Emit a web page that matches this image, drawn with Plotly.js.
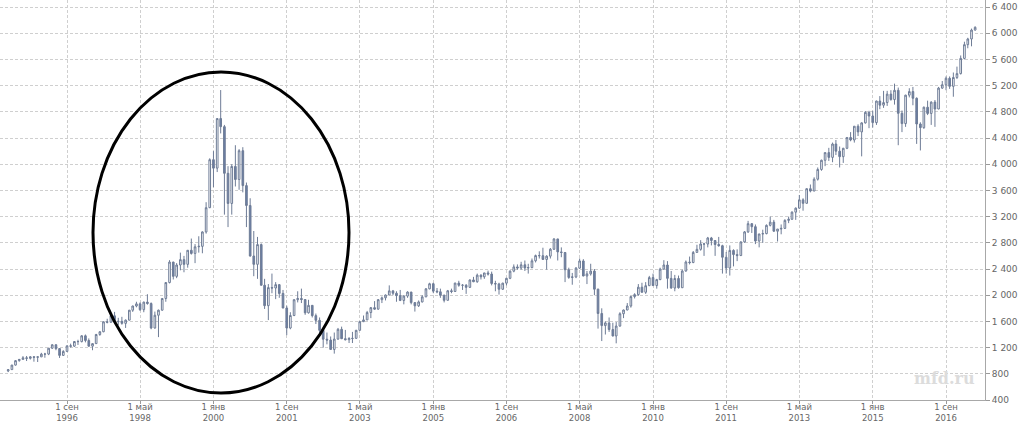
<!DOCTYPE html>
<html>
<head>
<meta charset="utf-8">
<script src="https://cdn.plot.ly/plotly-3.0.1.min.js"></script>
<style>html,body{margin:0;padding:0;background:#fff;}#chart{width:1022px;height:424px;}</style>
</head>
<body>
<div id="chart"></div>
<script>
var months = [
'1995-05-01','1995-06-01','1995-07-01','1995-08-01','1995-09-01','1995-10-01','1995-11-01','1995-12-01',
'1996-01-01','1996-02-01','1996-03-01','1996-04-01','1996-05-01','1996-06-01','1996-07-01','1996-08-01','1996-09-01','1996-10-01','1996-11-01','1996-12-01',
'1997-01-01','1997-02-01','1997-03-01','1997-04-01','1997-05-01','1997-06-01','1997-07-01','1997-08-01','1997-09-01','1997-10-01','1997-11-01','1997-12-01',
'1998-01-01','1998-02-01','1998-03-01','1998-04-01','1998-05-01','1998-06-01','1998-07-01','1998-08-01','1998-09-01','1998-10-01','1998-11-01','1998-12-01',
'1999-01-01','1999-02-01','1999-03-01','1999-04-01','1999-05-01','1999-06-01','1999-07-01','1999-08-01','1999-09-01','1999-10-01','1999-11-01','1999-12-01',
'2000-01-01','2000-02-01','2000-03-01','2000-04-01','2000-05-01','2000-06-01','2000-07-01','2000-08-01','2000-09-01','2000-10-01','2000-11-01','2000-12-01',
'2001-01-01','2001-02-01','2001-03-01','2001-04-01','2001-05-01','2001-06-01','2001-07-01','2001-08-01','2001-09-01','2001-10-01','2001-11-01','2001-12-01',
'2002-01-01','2002-02-01','2002-03-01','2002-04-01','2002-05-01','2002-06-01','2002-07-01','2002-08-01','2002-09-01','2002-10-01','2002-11-01','2002-12-01',
'2003-01-01','2003-02-01','2003-03-01','2003-04-01','2003-05-01','2003-06-01','2003-07-01','2003-08-01','2003-09-01','2003-10-01','2003-11-01','2003-12-01',
'2004-01-01','2004-02-01','2004-03-01','2004-04-01','2004-05-01','2004-06-01','2004-07-01','2004-08-01','2004-09-01','2004-10-01','2004-11-01','2004-12-01',
'2005-01-01','2005-02-01','2005-03-01','2005-04-01','2005-05-01','2005-06-01','2005-07-01','2005-08-01','2005-09-01','2005-10-01','2005-11-01','2005-12-01',
'2006-01-01','2006-02-01','2006-03-01','2006-04-01','2006-05-01','2006-06-01','2006-07-01','2006-08-01','2006-09-01','2006-10-01','2006-11-01','2006-12-01',
'2007-01-01','2007-02-01','2007-03-01','2007-04-01','2007-05-01','2007-06-01','2007-07-01','2007-08-01','2007-09-01','2007-10-01','2007-11-01','2007-12-01',
'2008-01-01','2008-02-01','2008-03-01','2008-04-01','2008-05-01','2008-06-01','2008-07-01','2008-08-01','2008-09-01','2008-10-01','2008-11-01','2008-12-01',
'2009-01-01','2009-02-01','2009-03-01','2009-04-01','2009-05-01','2009-06-01','2009-07-01','2009-08-01','2009-09-01','2009-10-01','2009-11-01','2009-12-01',
'2010-01-01','2010-02-01','2010-03-01','2010-04-01','2010-05-01','2010-06-01','2010-07-01','2010-08-01','2010-09-01','2010-10-01','2010-11-01','2010-12-01',
'2011-01-01','2011-02-01','2011-03-01','2011-04-01','2011-05-01','2011-06-01','2011-07-01','2011-08-01','2011-09-01','2011-10-01','2011-11-01','2011-12-01',
'2012-01-01','2012-02-01','2012-03-01','2012-04-01','2012-05-01','2012-06-01','2012-07-01','2012-08-01','2012-09-01','2012-10-01','2012-11-01','2012-12-01',
'2013-01-01','2013-02-01','2013-03-01','2013-04-01','2013-05-01','2013-06-01','2013-07-01','2013-08-01','2013-09-01','2013-10-01','2013-11-01','2013-12-01',
'2014-01-01','2014-02-01','2014-03-01','2014-04-01','2014-05-01','2014-06-01','2014-07-01','2014-08-01','2014-09-01','2014-10-01','2014-11-01','2014-12-01',
'2015-01-01','2015-02-01','2015-03-01','2015-04-01','2015-05-01','2015-06-01','2015-07-01','2015-08-01','2015-09-01','2015-10-01','2015-11-01','2015-12-01',
'2016-01-01','2016-02-01','2016-03-01','2016-04-01','2016-05-01','2016-06-01','2016-07-01','2016-08-01','2016-09-01','2016-10-01','2016-11-01','2016-12-01',
'2017-01-01','2017-02-01','2017-03-01','2017-04-01','2017-05-01'
];

var openVals = [
843,864,933,1001,1020,1044,1036,1059,
1052,1059,1100,1101,1191,1243,1185,1081,1142,1227,1222,1293,
1291,1380,1309,1222,1261,1400,1442,1594,1587,1686,1594,1601,
1570,1619,1771,1835,1868,1779,1895,1873,1499,1694,1771,1950,
2193,2506,2288,2461,2543,2471,2686,2638,2739,2746,2966,3336,
4069,3940,4697,4573,3861,3401,3966,3767,4206,3673,3370,2598,
2471,2773,2152,1840,2116,2110,2161,2027,1805,1499,1690,1931,
1950,1934,1731,1845,1688,1616,1463,1328,1315,1172,1330,1479,
1336,1321,1338,1341,1464,1596,1623,1735,1810,1787,1932,1960,
2003,2066,2030,1994,1920,1987,2048,1887,1838,1897,1975,2097,
2175,2062,2052,1999,1922,2068,2057,2185,2152,2152,2120,2233,
2205,2306,2281,2340,2323,2179,2172,2091,2184,2258,2367,2432,
2415,2464,2416,2422,2525,2605,2603,2546,2596,2702,2859,2661,
2652,2389,2271,2279,2413,2523,2293,2326,2368,2092,1721,1536,
1577,1476,1378,1529,1717,1774,1835,1979,2009,2122,2045,2145,
2269,2147,2238,2398,2461,2257,2109,2255,2114,2369,2507,2498,
2653,2700,2782,2781,2874,2835,2774,2756,2579,2415,2684,2620,
2605,2814,2967,3092,3046,2827,2935,2940,3067,3116,2977,3010,
3020,3142,3160,3268,3329,3456,3403,3626,3590,3771,3920,4060,
4177,4104,4308,4199,4115,4243,4408,4370,4580,4493,4631,4792,
4736,4635,4964,4901,4941,5070,4987,5128,4777,4620,5054,5109,
5007,4614,4558,4870,4775,4948,4843,5162,5213,5312,5189,5324,
5383,5615,5825,5912,6048
];

var highVals = [
870,936,1010,1025,1070,1072,1070,1070,
1060,1120,1120,1195,1250,1250,1190,1160,1230,1260,1295,1320,
1390,1400,1340,1265,1410,1450,1600,1640,1700,1745,1655,1670,
1630,1775,1840,1900,1890,1900,2015,1890,1750,1780,1950,2200,
2535,2510,2490,2650,2600,2690,2865,2780,2900,2975,3420,4090,
4200,4700,5132,4600,3970,4000,4290,4230,4260,3720,3480,2980,
2890,2790,2250,2170,2330,2200,2170,2080,1840,1740,1940,2060,
2100,1940,1930,1850,1720,1660,1480,1430,1370,1430,1500,1520,
1470,1360,1440,1470,1600,1690,1760,1820,1910,1940,1980,2010,
2150,2080,2060,2080,2000,2060,2050,1890,1920,2000,2110,2190,
2190,2110,2100,2010,2080,2100,2190,2220,2170,2170,2240,2280,
2330,2320,2340,2375,2360,2220,2190,2190,2265,2380,2470,2470,
2510,2530,2480,2560,2620,2670,2725,2610,2720,2870,2860,2730,
2660,2420,2340,2430,2560,2550,2370,2480,2400,2100,1800,1600,
1660,1580,1590,1740,1780,1880,1990,2030,2170,2190,2200,2295,
2330,2250,2420,2535,2520,2370,2310,2300,2390,2530,2590,2675,
2770,2840,2800,2890,2890,2840,2890,2770,2660,2760,2700,2700,
2820,2980,3135,3100,3080,2930,3000,3080,3200,3150,3010,3080,
3160,3200,3280,3340,3530,3480,3630,3690,3800,3950,4070,4180,
4250,4330,4370,4270,4250,4410,4490,4580,4610,4640,4810,4815,
4815,4970,5040,5120,5120,5130,5230,5170,4820,5060,5160,5180,
5020,4640,4880,4970,4960,4980,5180,5270,5340,5340,5400,5490,
5660,5870,5930,6070,6105
];

var lowVals = [
826,860,925,985,1015,995,1018,985,
980,1055,1045,1085,1180,1160,1042,1075,1135,1200,1210,1240,
1280,1280,1215,1160,1255,1380,1435,1570,1580,1560,1540,1550,
1500,1615,1745,1815,1760,1740,1855,1480,1490,1360,1765,1900,
2180,2240,2260,2380,2350,2420,2620,2490,2650,2640,2940,3330,
3650,3880,4470,3230,3040,3230,3660,3610,3570,3040,2590,2290,
2250,2150,1790,1620,2030,1940,1960,1800,1390,1480,1680,1890,
1880,1700,1720,1660,1560,1370,1200,1250,1170,1108,1320,1330,
1310,1270,1270,1340,1460,1590,1620,1650,1780,1780,1880,1920,
2000,2000,1900,1910,1860,1960,1860,1750,1820,1890,1970,2090,
2030,2030,1960,1890,1920,2030,2050,2130,2080,2020,2110,2200,
2190,2240,2250,2300,2150,2060,2010,2080,2150,2245,2350,2390,
2390,2370,2330,2410,2500,2560,2540,2390,2560,2690,2530,2580,
2200,2250,2160,2260,2400,2290,2170,2300,2000,1490,1300,1400,
1440,1370,1265,1520,1650,1770,1810,1950,1990,2040,2020,2140,
2140,2100,2230,2390,2100,2100,2060,2100,2110,2360,2470,2490,
2650,2680,2600,2730,2760,2600,2740,2330,2330,2300,2440,2520,
2600,2800,2950,2950,2780,2730,2800,2930,3050,2970,2820,2930,
3010,3100,3150,3150,3320,3290,3400,3570,3590,3750,3900,3970,
4050,4030,4140,3950,4020,4230,4350,4330,4430,4120,4620,4550,
4560,4600,4840,4860,4890,4970,4910,4290,4490,4570,5020,4900,
4310,4210,4540,4750,4600,4570,4840,5150,5130,5150,5030,5300,
5370,5600,5770,5800,6040
];

var closeVals = [
864,933,1001,1020,1044,1036,1059,1052,
1059,1100,1101,1191,1243,1185,1081,1142,1227,1222,1293,1291,
1380,1309,1222,1261,1400,1442,1594,1587,1686,1594,1601,1570,
1619,1771,1835,1868,1779,1895,1873,1499,1694,1771,1950,2193,
2506,2288,2461,2543,2471,2686,2638,2739,2746,2966,3336,4069,
3940,4697,4573,3861,3401,3966,3767,4206,3673,3370,2598,2471,
2773,2152,1840,2116,2110,2161,2027,1805,1499,1690,1931,1950,
1934,1731,1845,1688,1616,1463,1328,1315,1172,1330,1479,1336,
1321,1338,1341,1464,1596,1623,1735,1810,1787,1932,1960,2003,
2066,2030,1994,1920,1987,2048,1887,1838,1897,1975,2097,2175,
2062,2052,1999,1922,2068,2057,2185,2152,2152,2120,2233,2205,
2306,2281,2340,2323,2179,2172,2091,2184,2258,2367,2432,2415,
2464,2416,2422,2525,2605,2603,2546,2596,2702,2859,2661,2652,
2389,2271,2279,2413,2523,2293,2326,2368,2092,1721,1536,1577,
1476,1378,1529,1717,1774,1835,1979,2009,2122,2045,2145,2269,
2147,2238,2398,2461,2257,2109,2255,2114,2369,2507,2498,2653,
2700,2782,2781,2874,2835,2774,2756,2579,2415,2684,2620,2605,
2814,2967,3092,3046,2827,2935,2940,3067,3116,2977,3010,3020,
3142,3160,3268,3329,3456,3403,3626,3590,3771,3920,4060,4177,
4104,4308,4199,4115,4243,4408,4370,4580,4493,4631,4792,4736,
4635,4964,4901,4941,5070,4987,5128,4777,4620,5054,5109,5007,
4614,4558,4870,4775,4948,4843,5162,5213,5312,5189,5324,5383,
5615,5825,5912,6048,6090
];

var xTickVals = ['1996-09-01','1998-05-01','2000-01-01','2001-09-01','2003-05-01','2005-01-01','2006-09-01','2008-05-01','2010-01-01','2011-09-01','2013-05-01','2015-01-01','2016-09-01'];
var xTickText = ['1 сен<br>1996','1 май<br>1998','1 янв<br>2000','1 сен<br>2001','1 май<br>2003','1 янв<br>2005','1 сен<br>2006','1 май<br>2008','1 янв<br>2010','1 сен<br>2011','1 май<br>2013','1 янв<br>2015','1 сен<br>2016'];
var yTickVals = [400,800,1200,1600,2000,2400,2800,3200,3600,4000,4400,4800,5200,5600,6000,6400];
var yTickText = ['400','800','1 200','1 600','2 000','2 400','2 800','3 200','3 600','4 000','4 400','4 800','5 200','5 600','6 000','6 400'];

var trace = {
  type: 'candlestick',
  x: months,
  open: openVals,
  high: highVals,
  low: lowVals,
  close: closeVals,
  increasing: {line: {color: '#6e7c96', width: 1}, fillcolor: '#ffffff'},
  decreasing: {line: {color: '#6e7c96', width: 1}, fillcolor: '#6a7ea6'},
  whiskerwidth: 0,
  hoverinfo: 'skip',
  showlegend: false
};

var yFont = {family: 'DejaVu Sans, Verdana, sans-serif', size: 9, color: '#666666'};
var xFont = {family: 'DejaVu Sans, Verdana, sans-serif', size: 8.5, color: '#666666'};

var layout = {
  width: 1022,
  height: 424,
  margin: {l: 0, r: 37, t: 0, b: 24, pad: 0},
  paper_bgcolor: '#ffffff',
  plot_bgcolor: '#ffffff',
  showlegend: false,
  xaxis: {
    type: 'date',
    range: ['1995-02-22', '2017-07-22'],
    rangeslider: {visible: false},
    tickmode: 'array',
    tickvals: xTickVals,
    ticktext: xTickText,
    ticks: 'outside',
    ticklen: 3,
    tickcolor: '#9a9a9a',
    tickfont: xFont,
    ticklabelstandoff: -4,
    showgrid: true,
    gridcolor: '#cfcfcf',
    griddash: '3px,2px',
    gridwidth: 1,
    showline: true,
    linecolor: '#a8a8a8',
    linewidth: 1,
    zeroline: false,
    fixedrange: true
  },
  yaxis: {
    side: 'right',
    range: [400, 6507],
    tickmode: 'array',
    tickvals: yTickVals,
    ticktext: yTickText,
    ticks: 'outside',
    ticklen: 4,
    tickcolor: '#9a9a9a',
    tickfont: yFont,
    showgrid: true,
    gridcolor: '#cfcfcf',
    griddash: '3px,2px',
    gridwidth: 1,
    showline: true,
    linecolor: '#a8a8a8',
    linewidth: 1,
    zeroline: false,
    fixedrange: true
  },
  shapes: [{
    type: 'circle',
    xref: 'paper', yref: 'paper',
    x0: 93/985, x1: 349/985,
    y0: 7/400, y1: 328/400,
    line: {color: '#000000', width: 3}
  }],
  annotations: [{
    xref: 'paper', yref: 'paper',
    x: 0.959, y: 0.055,
    xanchor: 'center', yanchor: 'middle',
    text: '<b>mfd.ru</b>',
    showarrow: false,
    font: {family: 'DejaVu Serif, serif', size: 16, color: '#dcdcdc'}
  }]
};

Plotly.newPlot('chart', [trace], layout, {staticPlot: true, displayModeBar: false});
</script>
</body>
</html>
